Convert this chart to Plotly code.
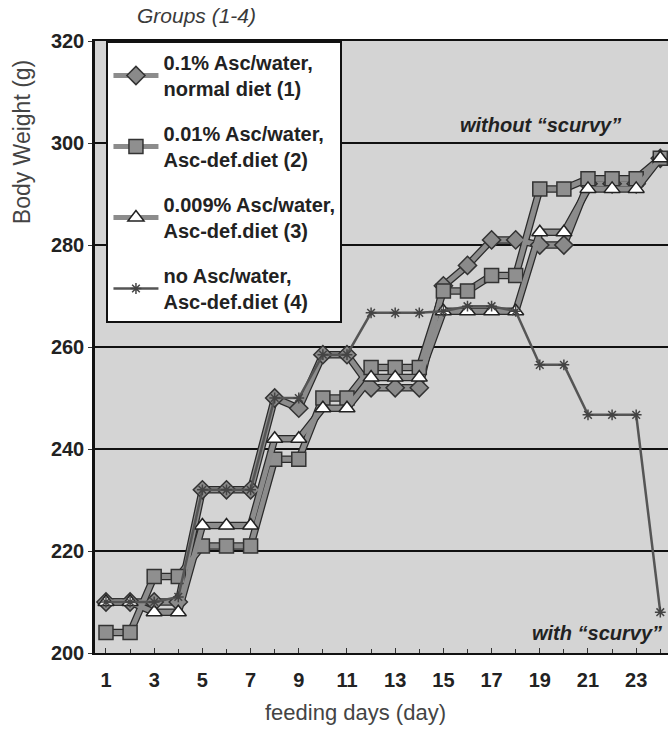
import plotly.graph_objects as go

# ---- data ----
days = list(range(1, 25))
g1_vals = [210, 210, 210, 210, 232, 232, 232, 250, 248, 258.5, 258.5, 252, 252, 252,
           272, 276, 281, 281, 280, 280, 292, 292, 292, 297]
g2_vals = [204, 204, 215, 215, 221, 221, 221, 238, 238, 250, 250, 256, 256, 256,
           271, 271, 274, 274, 291, 291, 293, 293, 293, 297]
g3_vals = [210, 210, 208, 208, 225, 225, 225, 242, 242, 248, 248, 254, 254, 254,
           267, 267, 267, 267, 282.5, 282.5, 291, 291, 291, 297]
g4_vals = [210, 210, 210, 211, 232, 232, 232, 250, 250, 258.5, 258.5, 266.7, 266.7, 266.7,
           267, 268, 268, 267, 256.5, 256.5, 246.7, 246.7, 246.7, 208]

names = ["0.1% Asc/water,<br>normal diet (1)",
         "0.01% Asc/water,<br>Asc-def.diet (2)",
         "0.009% Asc/water,<br>Asc-def.diet (3)",
         "no Asc/water,<br>Asc-def.diet (4)"]
x_tick_vals = list(range(1, 25, 2))
y_tick_vals = [200, 220, 240, 260, 280, 300, 320]

FONT = "Liberation Sans, Arial, sans-serif"

fig = go.Figure()

# dark outline under the thick grey lines
for vals in (g3_vals, g2_vals, g1_vals):
    fig.add_trace(go.Scatter(x=days, y=vals, mode="lines",
                             line=dict(color="#2a2a2a", width=7.5),
                             showlegend=False, hoverinfo="skip"))

fig.add_trace(go.Scatter(x=days, y=g1_vals, mode="lines+markers", name=names[0],
                         legendgroup="g1", legendrank=1,
                         line=dict(color="#8c8c8c", width=5),
                         marker=dict(symbol="diamond", size=14, color="#8a8a8a",
                                     line=dict(color="#333333", width=1.5))))
fig.add_trace(go.Scatter(x=days, y=g2_vals, mode="lines+markers", name=names[1],
                         legendgroup="g2", legendrank=2,
                         line=dict(color="#8c8c8c", width=5),
                         marker=dict(symbol="square", size=14, color="#8f8f8f",
                                     line=dict(color="#333333", width=1.5))))
fig.add_trace(go.Scatter(x=days, y=g3_vals, mode="lines+markers", name=names[2],
                         legendgroup="g3", legendrank=3,
                         line=dict(color="#8c8c8c", width=5),
                         marker=dict(symbol="triangle-up", size=14, color="white",
                                     line=dict(color="#222222", width=1.5))))
fig.add_trace(go.Scatter(x=days, y=g4_vals, mode="lines+markers", name=names[3],
                         legendgroup="g4", legendrank=4,
                         line=dict(color="#555555", width=2.5),
                         marker=dict(symbol="asterisk-open", size=9, color="#444444",
                                     line=dict(color="#444444", width=1.5))))

fig.update_layout(
    width=668, height=735,
    margin=dict(l=95, r=0, t=41, b=82),
    paper_bgcolor="white",
    plot_bgcolor="#d4d4d4",
    font=dict(family=FONT, color="#222222"),
    showlegend=True,
    legend=dict(x=0.02, y=1.0, xanchor="left", yanchor="top",
                bgcolor="white", bordercolor="#111111", borderwidth=2,
                font=dict(family=FONT, size=20, color="#222222", weight="bold"),
                tracegroupgap=16, itemwidth=45, traceorder="grouped"),
    xaxis=dict(range=[0.544, 24.32], tickvals=x_tick_vals,
               ticks="inside", ticklen=5, tickcolor="#333333",
               minor=dict(dtick=1, tick0=0, ticks="inside", ticklen=4, tickcolor="#333333"),
               showgrid=False, zeroline=False,
               showline=True, linecolor="#111111", linewidth=2, mirror=True,
               tickfont=dict(family=FONT, size=20, color="#222222", weight="bold"),
               ticklabelstandoff=8),
    yaxis=dict(range=[200, 320], tickvals=y_tick_vals,
               ticks="outside", ticklen=4, tickcolor="#333333",
               showgrid=True, gridcolor="#111111", gridwidth=1.5,
               zeroline=False,
               showline=True, linecolor="#111111", linewidth=2.5,
               tickfont=dict(family=FONT, size=20, color="#222222", weight="bold")),
    annotations=[
        dict(text="Groups (1-4)", xref="paper", yref="paper", x=0.178, y=1.042,
             xanchor="center", yanchor="middle", showarrow=False,
             font=dict(family=FONT, size=21, color="#3a3a3a", style="italic")),
        dict(text="without “scurvy”", xref="paper", yref="paper", x=0.778, y=0.863,
             xanchor="center", yanchor="middle", showarrow=False,
             font=dict(family=FONT, size=20, color="#222222", style="italic", weight="bold")),
        dict(text="with “scurvy”", xref="paper", yref="paper", x=0.876, y=0.033,
             xanchor="center", yanchor="middle", showarrow=False,
             font=dict(family=FONT, size=20, color="#222222", style="italic", weight="bold")),
        dict(text="feeding days (day)", xref="paper", yref="paper", x=0.455, y=-0.098,
             xanchor="center", yanchor="middle", showarrow=False,
             font=dict(family=FONT, size=22, color="#444444")),
        dict(text="Body Weight (g)", xref="paper", yref="paper", x=-0.127, y=0.835,
             xanchor="center", yanchor="middle", showarrow=False, textangle=-90,
             font=dict(family=FONT, size=23, color="#444444")),
    ],
)

fig.write_html("out.html")
